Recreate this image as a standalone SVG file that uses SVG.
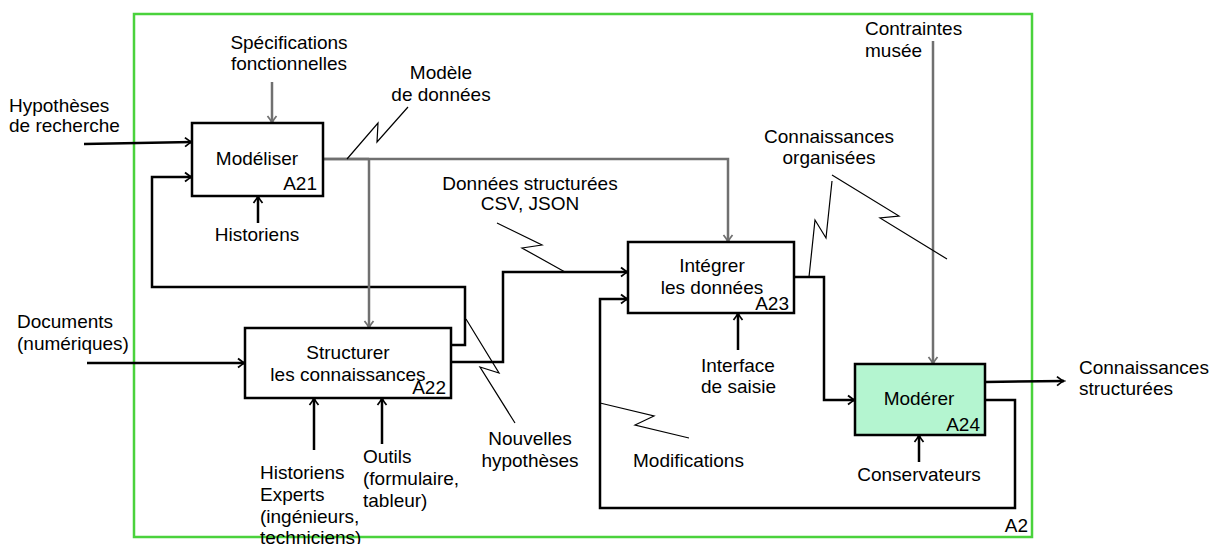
<svg xmlns="http://www.w3.org/2000/svg" width="1215" height="544" viewBox="0 0 1215 544">
<style>
text{font-family:"Liberation Sans",Arial,sans-serif;font-size:19px;fill:#000}
.m{text-anchor:middle}
.e{text-anchor:end}
.box{fill:#fff;stroke:#000;stroke-width:2.5}
.blk{fill:none;stroke:#000;stroke-width:2.5;marker-end:url(#ab)}
.gry{fill:none;stroke:#707070;stroke-width:2.5}
.gra{fill:none;stroke:#707070;stroke-width:2.5;marker-end:url(#ag)}
.zz{fill:none;stroke:#000;stroke-width:1.2}
</style>
<defs>
<marker id="ab" viewBox="-10 -6 12 12" refX="0" refY="0" markerWidth="12" markerHeight="12" orient="auto" markerUnits="userSpaceOnUse">
<path d="M-7,-4.5 C-4,-2 -1.5,-0.5 0,0 C-1.5,0.5 -4,2 -7,4.5" fill="none" stroke="#000" stroke-width="1.8"/>
</marker>
<marker id="ag" viewBox="-10 -6 12 12" refX="0" refY="0" markerWidth="12" markerHeight="12" orient="auto" markerUnits="userSpaceOnUse">
<path d="M-7,-4.5 C-4,-2 -1.5,-0.5 0,0 C-1.5,0.5 -4,2 -7,4.5" fill="none" stroke="#707070" stroke-width="1.8"/>
</marker>
</defs>
<rect width="1215" height="544" fill="#fff"/>
<g id="frame">
<rect x="134" y="14" width="898" height="523" fill="none" stroke="#4ad23c" stroke-width="2.5"/>
<text class="e" x="1028" y="532">A2</text>
</g>
<g id="connectors">
<path class="blk" d="M84,144 L192,142"/>
<path class="gra" d="M272,82 L272,123"/>
<path class="blk" d="M258,223 L258,196"/>
<path class="blk" d="M451,345 H465 V287 H152 V177 H192"/>
<path class="gra" d="M323,159 H728 V242"/>
<path class="gra" d="M369,159 V328"/>
<path class="gry" d="M323,159 H369" stroke-width="3.5"/>
<path class="blk" d="M87,363 H245"/>
<path class="blk" d="M451,362 H503 V272 H628"/>
<path class="blk" d="M314,450 V398"/>
<path class="blk" d="M382,444 V398"/>
<path class="blk" d="M794,277 H824 V400 H855"/>
<path class="blk" d="M738,350 V313"/>
<path class="gra" d="M933,41 V364"/>
<path class="blk" d="M985,382 L1064,381"/>
<path class="blk" d="M985,400 H1015 V508 H600 V299 H628"/>
<path class="blk" d="M919,462 V435"/>
<path class="zz" d="M347,159 L378,123 L377,142 L408,107"/>
<path class="zz" d="M497,223 L542,245 L522,248 L565,272"/>
<path class="zz" d="M832,175 L899,216 L880,218 L947,259"/>
<path class="zz" d="M832,181 L826,238 L815,220 L809,277"/>
<path class="zz" d="M466,319 L499,373 L480,367 L515,423"/>
<path class="zz" d="M600,403 L654,416 L635,425 L689,438"/>
</g>
<g id="A21">
<rect class="box" x="192" y="123" width="131" height="73"/>
<text class="m" x="257" y="165">Modéliser</text>
<text class="e" x="317" y="190">A21</text>
</g>
<g id="A22">
<rect class="box" x="245" y="328" width="206" height="70"/>
<text class="m" x="348" y="359">Structurer</text>
<text class="m" x="348" y="381">les connaissances</text>
<text class="e" x="446" y="394">A22</text>
</g>
<g id="A23">
<rect class="box" x="628" y="242" width="166" height="71"/>
<text class="m" x="712" y="272">Intégrer</text>
<text class="m" x="712" y="294">les données</text>
<text class="e" x="789" y="310">A23</text>
</g>
<g id="A24">
<rect class="box" x="855" y="364" width="130" height="71" style="fill:#b4f5d0"/>
<text class="m" x="919" y="405">Modérer</text>
<text class="e" x="980" y="431">A24</text>
</g>
<g id="labels">
<text x="9" y="112">Hypothèses</text>
<text x="9" y="132">de recherche</text>
<text class="m" x="289" y="49">Spécifications</text>
<text class="m" x="289" y="70">fonctionnelles</text>
<text class="m" x="441" y="79">Modèle</text>
<text class="m" x="441" y="101">de données</text>
<text class="m" x="257" y="241">Historiens</text>
<text class="m" x="530" y="190">Données structurées</text>
<text class="m" x="530" y="210">CSV, JSON</text>
<text x="865" y="35">Contraintes</text>
<text x="865" y="57">musée</text>
<text class="m" x="829" y="143">Connaissances</text>
<text class="m" x="829" y="164">organisées</text>
<text x="17" y="328">Documents</text>
<text x="17" y="350">(numériques)</text>
<text x="701" y="372">Interface</text>
<text x="701" y="393">de saisie</text>
<text class="m" x="530" y="445">Nouvelles</text>
<text class="m" x="530" y="467">hypothèses</text>
<text x="260" y="479">Historiens</text>
<text x="260" y="501">Experts</text>
<text x="260" y="523">(ingénieurs,</text>
<text x="260" y="544">techniciens)</text>
<text x="363" y="463">Outils</text>
<text x="363" y="485">(formulaire,</text>
<text x="363" y="507">tableur)</text>
<text x="633" y="467">Modifications</text>
<text class="m" x="919" y="481">Conservateurs</text>
<text x="1079" y="374">Connaissances</text>
<text x="1079" y="395">structurées</text>
</g>
</svg>
